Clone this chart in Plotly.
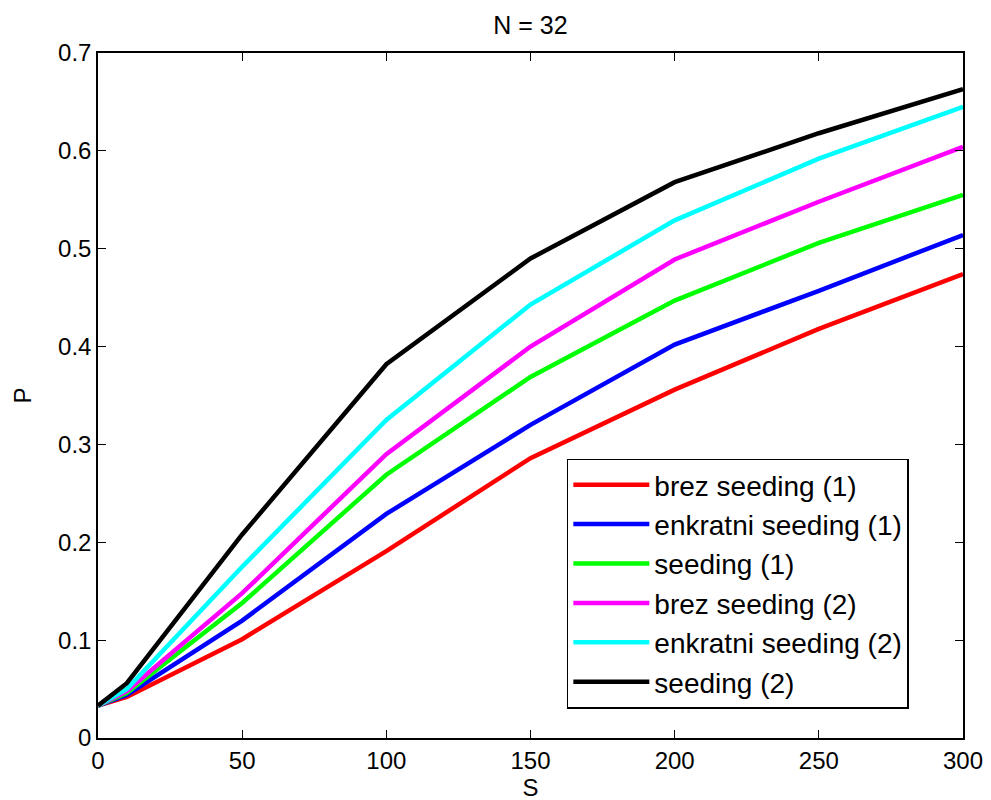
import plotly.graph_objects as go

# S values and P for each series
s_values = [0, 10, 50, 100, 150, 200, 250, 300]
brez_seeding_1 = [0.033, 0.042, 0.101, 0.191, 0.286, 0.356, 0.418, 0.474]
enkratni_seeding_1 = [0.033, 0.044, 0.120, 0.229, 0.320, 0.402, 0.457, 0.514]
seeding_1 = [0.033, 0.046, 0.138, 0.269, 0.369, 0.447, 0.506, 0.555]
brez_seeding_2 = [0.033, 0.048, 0.148, 0.290, 0.400, 0.489, 0.548, 0.604]
enkratni_seeding_2 = [0.033, 0.050, 0.175, 0.325, 0.443, 0.529, 0.592, 0.645]
seeding_2 = [0.033, 0.056, 0.208, 0.382, 0.490, 0.568, 0.618, 0.663]

series = [
    ("brez seeding (1)", brez_seeding_1, "#ff0000"),
    ("enkratni seeding (1)", enkratni_seeding_1, "#0000ff"),
    ("seeding (1)", seeding_1, "#00ff00"),
    ("brez seeding (2)", brez_seeding_2, "#ff00ff"),
    ("enkratni seeding (2)", enkratni_seeding_2, "#00ffff"),
    ("seeding (2)", seeding_2, "#000000"),
]

x_ticks = [0, 50, 100, 150, 200, 250, 300]
y_ticks = [0, 0.1, 0.2, 0.3, 0.4, 0.5, 0.6, 0.7]
y_tick_text = ["0", "0.1", "0.2", "0.3", "0.4", "0.5", "0.6", "0.7"]

fig = go.Figure()
for i, (name, vals, color) in enumerate(series):
    fig.add_trace(go.Scatter(
        x=s_values, y=vals, name=name, mode="lines", legendgroup=str(i),
        line=dict(color=color, width=4.5),
    ))

axis_common = dict(
    showgrid=False, zeroline=False, showline=True, linecolor="black",
    linewidth=1.5, mirror="ticks", ticks="inside", ticklen=8,
    tickcolor="black", tickfont=dict(size=24, color="black"),
)

# page body has an 8px margin, so the figure is offset a little
fig.update_layout(
    width=991, height=800,
    margin=dict(l=90, r=36, t=45, b=65),
    paper_bgcolor="white", plot_bgcolor="white",
    font=dict(family="Liberation Sans, Arial, sans-serif", color="black"),
    title=dict(text="N = 32", x=0.5, xanchor="center", xref="paper",
               y=0.979, yanchor="middle", font=dict(size=25)),
    xaxis=dict(range=[0, 300], tickvals=x_ticks,
               title=dict(text="S", font=dict(size=24), standoff=6),
               **axis_common),
    yaxis=dict(range=[0, 0.7], tickvals=y_ticks, ticktext=y_tick_text,
               title=dict(text="P", font=dict(size=24), standoff=20),
               **axis_common),
    legend=dict(
        x=0.542, y=0.408, xanchor="left", yanchor="top",
        bgcolor="white", bordercolor="black", borderwidth=1.5,
        font=dict(size=28), itemwidth=76, tracegroupgap=0,
    ),
)

fig.write_html("out.html")
